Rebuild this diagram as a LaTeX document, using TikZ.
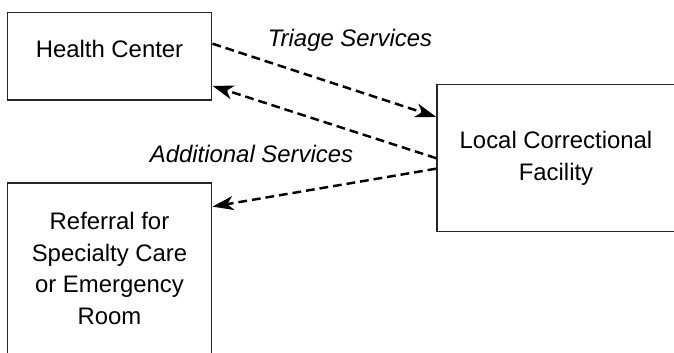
\documentclass[tikz,border=0pt]{standalone}
\usepackage{fontspec}
\setmainfont{Liberation Sans}
\usetikzlibrary{arrows.meta}
\tikzstyle{box}=[draw=black!85, line width=0.85pt, align=center, inner sep=0pt, font=\fontsize{13.6}{18}\selectfont]
\tikzstyle{lbl}=[font=\fontsize{13.6}{18}\selectfont\itshape, anchor=base]
\tikzstyle{link}=[dash pattern=on 5pt off 2.8pt, line width=1.4pt, -{Stealth[length=0.42cm,width=0.28cm,inset=0.12cm]}]

\begin{document}
\begin{tikzpicture}
\useasboundingbox (0,0) rectangle (13.48,-7.04);
\node[box, minimum width=4.09cm, minimum height=1.746cm, text depth=0.31cm] (hc) at (2.19,-1.127) {Health Center};
\node[box, minimum width=4.76cm, minimum height=2.94cm] (lcf) at (11.12,-3.164) {Local Correctional\\Facility};
\node[box, minimum width=4.09cm, minimum height=3.42cm] (ref) at (2.19,-5.37) {Referral for\\Specialty Care\\or Emergency\\Room};
\draw[link] (hc.7) -- (lcf.161);
\draw[link] (lcf.west) -- (hc.-16);
\draw[link] (lcf.185) -- (ref.31);
\node[lbl] (triage) at (7.0,-0.92) {Triage Services};
\node[lbl] (extra) at (5.03,-3.24) {Additional Services};
\end{tikzpicture}
\end{document}
